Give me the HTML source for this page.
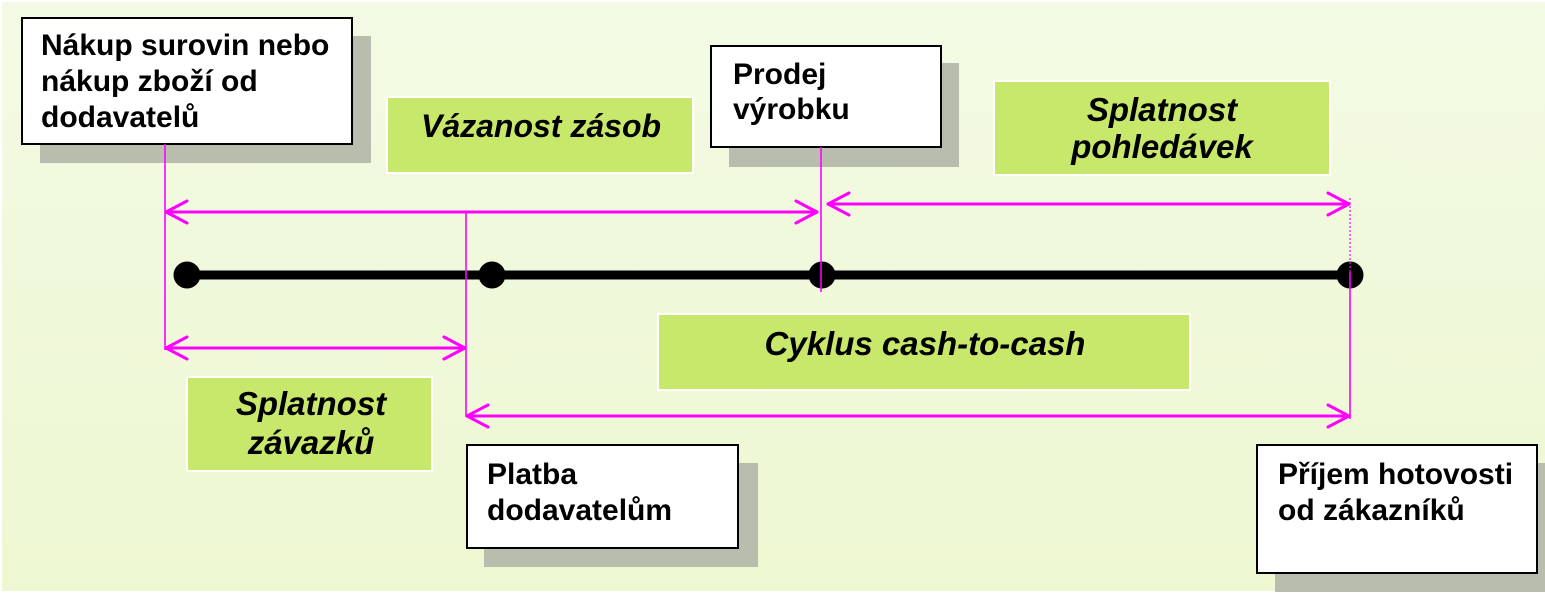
<!DOCTYPE html>
<html>
<head>
<meta charset="utf-8">
<style>
  html, body { margin: 0; padding: 0; background: #ffffff; }
  body { width: 1545px; height: 593px; overflow: hidden; }
  svg { display: block; }
  .bx { font-family: "Liberation Sans", Arial, sans-serif; font-weight: bold; font-size: 30px; fill: #000; }
  .gl { font-family: "Liberation Sans", Arial, sans-serif; font-weight: bold; font-style: italic; font-size: 33px; fill: #000; }
</style>
</head>
<body>
<svg width="1545" height="593" viewBox="0 0 1545 593" xmlns="http://www.w3.org/2000/svg">
  <defs>
    <linearGradient id="bg" x1="0" y1="0" x2="0" y2="1">
      <stop offset="0" stop-color="#f3fae4"/>
      <stop offset="1" stop-color="#edf7d1"/>
    </linearGradient>
  </defs>

  <rect x="0" y="0" width="1545" height="593" fill="#ffffff"/>
  <rect x="2" y="2" width="1543" height="589" fill="url(#bg)"/>

  <!-- shadows -->
  <rect x="40" y="36" width="331" height="127" fill="#b9bdae"/>
  <rect x="729" y="63" width="230" height="104" fill="#b9bdae"/>
  <rect x="484" y="463" width="274" height="104" fill="#b9bdae"/>
  <rect x="1275" y="463" width="270" height="129" fill="#b9bdae"/>

  <!-- white boxes -->
  <rect x="22" y="18" width="330" height="126" fill="#ffffff" stroke="#000" stroke-width="2"/>
  <rect x="711" y="46" width="230" height="101" fill="#ffffff" stroke="#000" stroke-width="2"/>
  <rect x="467" y="445" width="271" height="103" fill="#ffffff" stroke="#000" stroke-width="2"/>
  <rect x="1257" y="445" width="280" height="128" fill="#ffffff" stroke="#000" stroke-width="2"/>

  <!-- green boxes -->
  <rect x="387" y="97" width="306" height="76" fill="#c8e86c" stroke="#ffffff" stroke-width="2"/>
  <rect x="994" y="81" width="336" height="94" fill="#c8e86c" stroke="#ffffff" stroke-width="2"/>
  <rect x="187" y="377" width="245" height="94" fill="#c8e86c" stroke="#ffffff" stroke-width="2"/>
  <rect x="658" y="314" width="532" height="76" fill="#c8e86c" stroke="#ffffff" stroke-width="2"/>

  <!-- timeline -->
  <line x1="187" y1="275" x2="1350" y2="275" stroke="#000" stroke-width="9"/>
  <circle cx="187" cy="275" r="13.5" fill="#000"/>
  <circle cx="492" cy="275" r="13.5" fill="#000"/>
  <circle cx="822" cy="275" r="13.5" fill="#000"/>
  <circle cx="1350" cy="275" r="13.5" fill="#000"/>

  <!-- magenta verticals -->
  <g stroke="#ff00ff" fill="none">
    <line x1="165" y1="144" x2="165" y2="350" stroke-width="1.6"/>
    <line x1="466" y1="212" x2="466" y2="417" stroke-width="1.6"/>
    <line x1="821" y1="147" x2="821" y2="292" stroke-width="1.6"/>
    <line x1="1350" y1="198" x2="1350" y2="272" stroke-width="1.2" stroke-dasharray="2,2"/>
    <line x1="1350" y1="272" x2="1350" y2="419" stroke-width="1.6"/>
  </g>

  <!-- magenta arrows -->
  <g stroke="#ff00ff" stroke-width="3" fill="none" stroke-linecap="round" stroke-linejoin="round">
    <line x1="166" y1="212" x2="817" y2="212"/>
    <polyline points="187,201 166,212 187,223"/>
    <polyline points="796,201 817,212 796,223"/>
    <line x1="828" y1="204" x2="1349" y2="204"/>
    <polyline points="849,193 828,204 849,215"/>
    <polyline points="1328,193 1349,204 1328,215"/>
    <line x1="166" y1="348" x2="465" y2="348"/>
    <polyline points="187,337 166,348 187,359"/>
    <polyline points="444,337 465,348 444,359"/>
    <line x1="467" y1="416" x2="1349" y2="416"/>
    <polyline points="488,405 467,416 488,427"/>
    <polyline points="1328,405 1349,416 1328,427"/>
  </g>

  <!-- white box text -->
  <text class="bx" x="41" y="55">Nákup surovin nebo</text>
  <text class="bx" x="41" y="91">nákup zboží od</text>
  <text class="bx" x="41" y="127">dodavatelů</text>

  <text class="bx" x="733" y="84">Prodej</text>
  <text class="bx" x="733" y="119">výrobku</text>

  <text class="bx" x="487" y="484">Platba</text>
  <text class="bx" x="487" y="520">dodavatelům</text>

  <text class="bx" x="1278" y="484">Příjem hotovosti</text>
  <text class="bx" x="1278" y="520">od zákazníků</text>

  <!-- green labels -->
  <text class="gl" x="541" y="137" text-anchor="middle" style="font-size:32px">Vázanost zásob</text>
  <text class="gl" x="1162" y="121" text-anchor="middle">Splatnost</text>
  <text class="gl" x="1162" y="158" text-anchor="middle">pohledávek</text>
  <text class="gl" x="311" y="415" text-anchor="middle">Splatnost</text>
  <text class="gl" x="311" y="454" text-anchor="middle">závazků</text>
  <text class="gl" x="925" y="355" text-anchor="middle">Cyklus cash-to-cash</text>
</svg>
</body>
</html>
